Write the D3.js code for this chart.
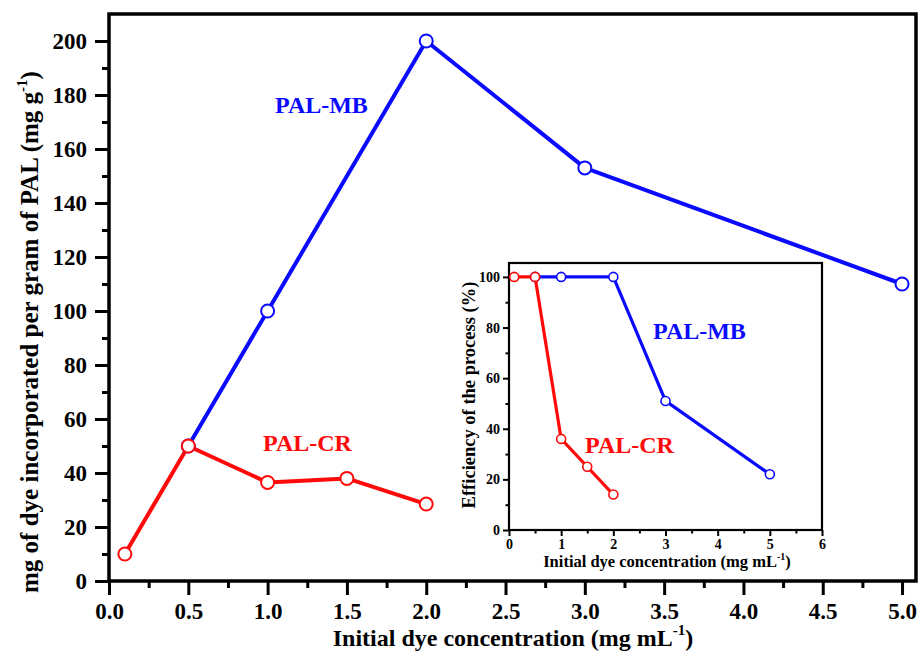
<!DOCTYPE html>
<html>
<head>
<meta charset="utf-8">
<script src="https://d3js.org/d3.v7.min.js"></script>
<style>
  body { margin: 0; background: #fff; }
</style>
</head>
<body>
<svg id="chart"></svg>
<script>
// main plot: dye incorporated (mg g-1)
const mbConc = [0.5, 1, 2, 3, 5];
const mbLoad = [50, 100, 200, 153, 110];
const crConc = [0.1, 0.5, 1, 1.5, 2];
const crLoad = [10, 50, 36.5, 38, 28.5];

// inset: efficiency (%)
const mbEffConc = [0.5, 1, 2, 3, 5];
const mbEff = [100, 100, 100, 51, 22];
const crEffConc = [0.1, 0.5, 1, 1.5, 2];
const crEff = [100, 100, 36, 25, 14];

const xTicksMain = [0, 0.5, 1, 1.5, 2, 2.5, 3, 3.5, 4, 4.5, 5];
const yTicksMain = [0, 20, 40, 60, 80, 100, 120, 140, 160, 180, 200];
const xTicksInset = [0, 1, 2, 3, 4, 5, 6];
const yTicksInset = [0, 20, 40, 60, 80, 100];

const BLUE = '#0a0aff', RED = '#ff0a0a';
const FONT = '"Liberation Serif", "Times New Roman", serif';

const svg = d3.select('#chart').attr('width', 920).attr('height', 658);

function zip(xs, ys){ return xs.map((x, i) => ({x: x, y: ys[i]})); }

function panel(cfg){
      const g = svg.append('g');
      const x = d3.scaleLinear().domain(cfg.xdom).range([cfg.left, cfg.right]);
      const y = d3.scaleLinear().domain(cfg.ydom).range([cfg.bottom, cfg.top]);

      // frame
      g.append('rect')
            .attr('x', cfg.left).attr('y', cfg.top)
            .attr('width', cfg.right - cfg.left).attr('height', cfg.bottom - cfg.top)
            .attr('fill', '#fff').attr('stroke', '#000').attr('stroke-width', cfg.frameW);

      // minor ticks
      g.append('g').attr('transform', `translate(0,${cfg.bottom})`)
            .call(d3.axisBottom(x).tickValues(cfg.xMinor).tickSize(cfg.minorLen).tickFormat(''))
            .call(a => a.select('.domain').remove())
            .selectAll('line').attr('stroke-width', cfg.tickW);
      g.append('g').attr('transform', `translate(${cfg.left},0)`)
            .call(d3.axisLeft(y).tickValues(cfg.yMinor).tickSize(cfg.minorLen).tickFormat(''))
            .call(a => a.select('.domain').remove())
            .selectAll('line').attr('stroke-width', cfg.tickW);

      // major ticks
      const xa = g.append('g').attr('transform', `translate(0,${cfg.bottom})`)
            .call(d3.axisBottom(x).tickValues(cfg.xTicks).tickSize(cfg.majorLen).tickPadding(cfg.pad).tickFormat(cfg.xFmt));
      xa.select('.domain').remove();
      xa.selectAll('line').attr('stroke-width', cfg.tickW);
      xa.selectAll('text').attr('font-size', cfg.tickFont).attr('fill', '#000');

      const ya = g.append('g').attr('transform', `translate(${cfg.left},0)`)
            .call(d3.axisLeft(y).tickValues(cfg.yTicks).tickSize(cfg.majorLen).tickPadding(cfg.pad).tickFormat(d3.format('d')));
      ya.select('.domain').remove();
      ya.selectAll('line').attr('stroke-width', cfg.tickW);
      ya.selectAll('text').attr('font-size', cfg.tickFont).attr('fill', '#000');

      const line = d3.line().x(d => x(d.x)).y(d => y(d.y));
      cfg.series.forEach(s => {
            g.append('path').datum(s.data)
                  .attr('d', line).attr('fill', 'none')
                  .attr('stroke', s.color).attr('stroke-width', cfg.lineW)
                  .attr('stroke-linejoin', 'round');
      });
      cfg.series.forEach(s => {
            g.selectAll(null).data(s.data).enter().append('circle')
                  .attr('cx', d => x(d.x)).attr('cy', d => y(d.y))
                  .attr('r', cfg.r).attr('fill', '#fff')
                  .attr('stroke', s.color).attr('stroke-width', cfg.circW);
      });
      cfg.series.forEach(s => {
            g.append('text').attr('x', s.lx).attr('y', s.ly)
                  .attr('fill', s.color).attr('font-size', cfg.labelFont)
                  .text(s.name);
      });
      return g;
}

// main chart
panel({
      left: 109, right: 916, top: 14, bottom: 581,
      xdom: [0, 5.088], ydom: [0, 210],
      xTicks: xTicksMain, yTicks: yTicksMain,
      xMinor: d3.range(0.25, 5, 0.5), yMinor: d3.range(10, 210, 20),
      xFmt: d3.format('.1f'),
      majorLen: 14, minorLen: 7, pad: 8, tickW: 3, frameW: 3.5,
      tickFont: 23, lineW: 4, r: 6.5, circW: 2, labelFont: 24,
      series: [
            {name: 'PAL-MB', color: BLUE, data: zip(mbConc, mbLoad), lx: 275, ly: 113},
            {name: 'PAL-CR', color: RED, data: zip(crConc, crLoad), lx: 263, ly: 451}
      ]
});

// main axis titles
const xt = svg.append('text').attr('x', 513).attr('y', 646)
      .attr('text-anchor', 'middle').attr('font-size', 24).attr('fill', '#000');
xt.append('tspan').text('Initial dye concentration (mg mL');
xt.append('tspan').attr('dy', -11).attr('font-size', 15).text('-1');
xt.append('tspan').attr('dy', 11).text(')');

const yt = svg.append('text').attr('transform', 'translate(38,332) rotate(-90)')
      .attr('text-anchor', 'middle').attr('font-size', 25).attr('fill', '#000');
yt.append('tspan').text('mg of dye incorporated per gram of PAL (mg g');
yt.append('tspan').attr('dy', -11).attr('font-size', 15).text('-1');
yt.append('tspan').attr('dy', 11).text(')');

// inset chart
panel({
      left: 509, right: 822, top: 263, bottom: 530,
      xdom: [0, 6], ydom: [0, 105.5],
      xTicks: xTicksInset, yTicks: yTicksInset,
      xMinor: d3.range(0.5, 6, 1), yMinor: d3.range(10, 105, 20),
      xFmt: d3.format('d'),
      majorLen: 6, minorLen: 3.5, pad: 3, tickW: 2, frameW: 2.2,
      tickFont: 14, lineW: 3.2, r: 4.5, circW: 1.6, labelFont: 24,
      series: [
            {name: 'PAL-MB', color: BLUE, data: zip(mbEffConc, mbEff), lx: 653, ly: 339},
            {name: 'PAL-CR', color: RED, data: zip(crEffConc, crEff), lx: 585, ly: 453}
      ]
});

const ixt = svg.append('text').attr('x', 667).attr('y', 567)
      .attr('text-anchor', 'middle').attr('font-size', 16.5).attr('fill', '#000');
ixt.append('tspan').text('Initial dye concentration (mg mL');
ixt.append('tspan').attr('dy', -7).attr('font-size', 10).text('-1');
ixt.append('tspan').attr('dy', 7).text(')');

svg.append('text').attr('transform', 'translate(475,395) rotate(-90)')
      .attr('text-anchor', 'middle').attr('font-size', 18.5).attr('fill', '#000')
      .text('Efficiency of the process (%)');

svg.selectAll('text').style('font-family', FONT).style('font-weight', 'bold');
</script>
</body>
</html>
